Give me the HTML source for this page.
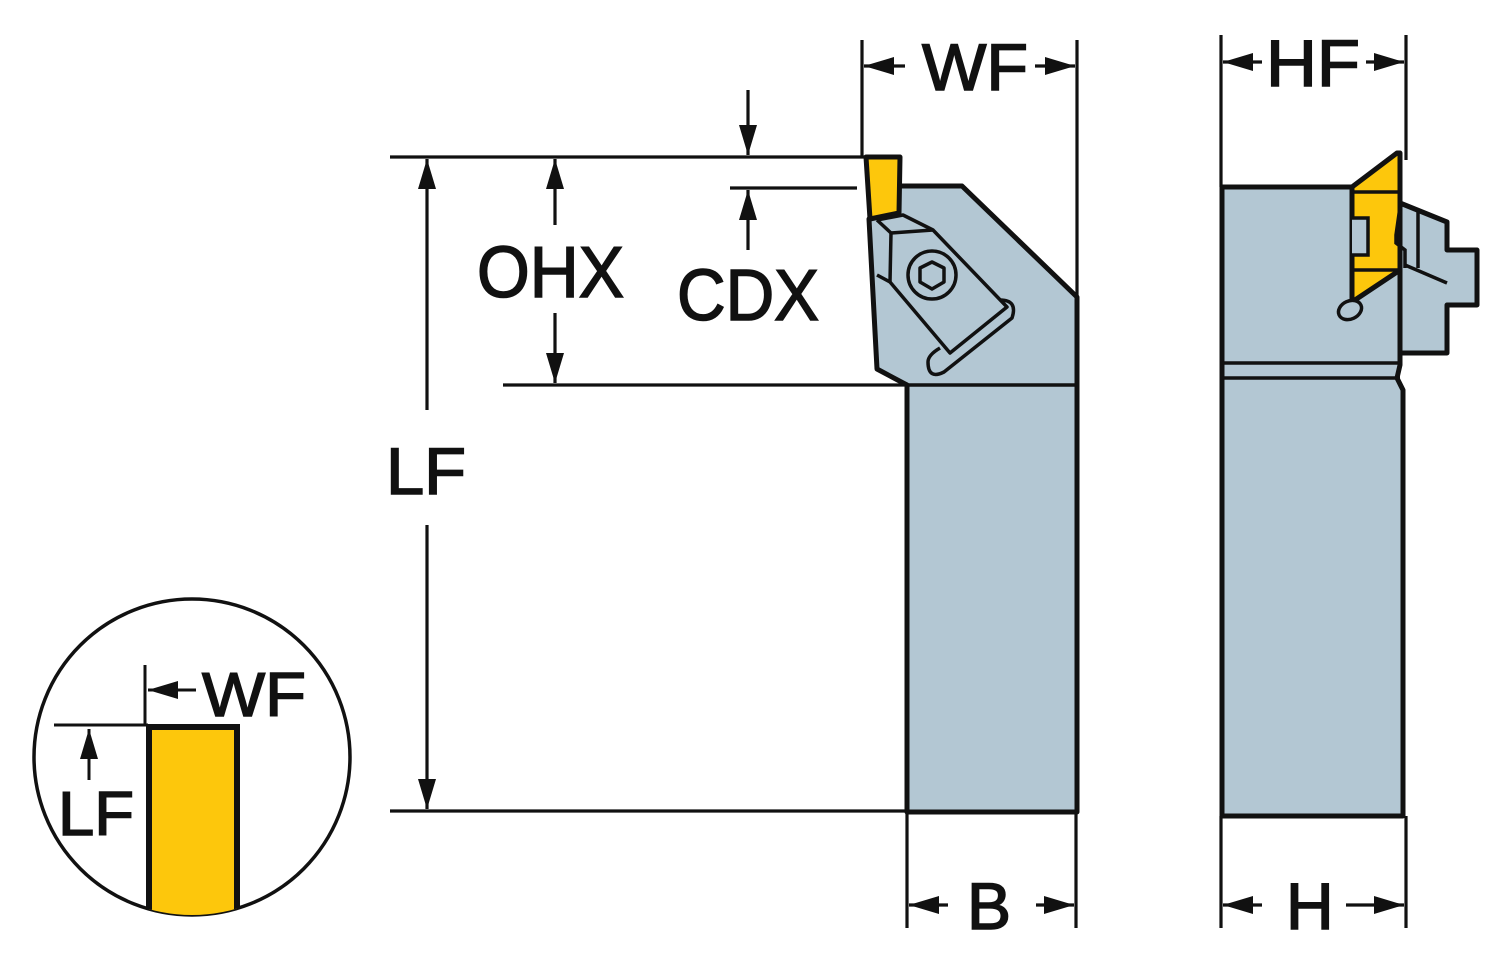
<!DOCTYPE html>
<html><head><meta charset="utf-8"><style>html,body{margin:0;padding:0;background:#fff}svg{display:block}</style></head>
<body>
<svg width="1500" height="961" viewBox="0 0 1500 961" xmlns="http://www.w3.org/2000/svg" font-family="Liberation Sans, Arial, sans-serif">
<defs>
<marker id="a" viewBox="0 0 10 10" refX="10" refY="5" markerWidth="30" markerHeight="30" markerUnits="userSpaceOnUse" orient="auto"><path d="M0,2 L10,5 L0,8 Z" fill="#111"/></marker>
</defs>
<g stroke="#111" stroke-width="3.2" fill="none">
<line x1="390" y1="157" x2="866" y2="157"/>
<line x1="730" y1="188" x2="857" y2="188"/>
<line x1="503" y1="385" x2="905" y2="385"/>
<line x1="390" y1="811" x2="905" y2="811"/>
<line x1="862" y1="40" x2="862" y2="156"/>
<line x1="1077" y1="40" x2="1077" y2="297"/>
<line x1="1221" y1="35" x2="1221" y2="187"/>
<line x1="1406" y1="35" x2="1406" y2="160"/>
<line x1="907" y1="812" x2="907" y2="928"/>
<line x1="1076" y1="812" x2="1076" y2="928"/>
<line x1="1221" y1="816" x2="1221" y2="928"/>
<line x1="1406" y1="816" x2="1406" y2="928"/>
<line x1="427" y1="410" x2="427" y2="159" marker-end="url(#a)"/>
<line x1="427" y1="525" x2="427" y2="809" marker-end="url(#a)"/>
<line x1="555" y1="225" x2="555" y2="159" marker-end="url(#a)"/>
<line x1="555" y1="313" x2="555" y2="383" marker-end="url(#a)"/>
<line x1="748" y1="90" x2="748" y2="155" marker-end="url(#a)"/>
<line x1="748" y1="250" x2="748" y2="190" marker-end="url(#a)"/>
<line x1="905" y1="66" x2="864" y2="66" marker-end="url(#a)"/>
<line x1="1035" y1="66" x2="1075" y2="66" marker-end="url(#a)"/>
<line x1="1262" y1="62" x2="1223" y2="62" marker-end="url(#a)"/>
<line x1="1366" y1="62" x2="1404" y2="62" marker-end="url(#a)"/>
<line x1="948" y1="905" x2="909" y2="905" marker-end="url(#a)"/>
<line x1="1036" y1="905" x2="1074" y2="905" marker-end="url(#a)"/>
<line x1="1262" y1="905" x2="1223" y2="905" marker-end="url(#a)"/>
<line x1="1346" y1="905" x2="1404" y2="905" marker-end="url(#a)"/>
</g>
<g fill="#111" stroke="#111" stroke-width="1.6" font-size="66">
<text x="922" y="90" textLength="106" lengthAdjust="spacingAndGlyphs">WF</text>
<text x="1266" y="86" textLength="94" lengthAdjust="spacingAndGlyphs">HF</text>
<text x="967" y="929">B</text>
<text x="1286" y="929">H</text>
<text x="386" y="494" textLength="80" lengthAdjust="spacingAndGlyphs">LF</text>
<text x="477" y="297" font-size="72" textLength="147" lengthAdjust="spacingAndGlyphs">OHX</text>
<text x="677" y="320" font-size="72" textLength="142" lengthAdjust="spacingAndGlyphs">CDX</text>
</g>
<g stroke="#111" stroke-width="5" stroke-linejoin="round">
<path d="M900,186 L962,186 L1077,297 L1077,812 L907,812 L907,385 L877,369 L869,219 Z" fill="#b3c7d3"/>
<path d="M866,157 L900,157 L899,213 L870,219 Z" fill="#fdc70c"/>
</g>
<g stroke="#111" stroke-width="3.5" fill="none" stroke-linejoin="round">
<line x1="907" y1="385" x2="1077" y2="385"/>
<path d="M877,220 L903,215 L933,230 L1007,307 L950,353 L890,282 L877,275"/>
<line x1="890" y1="282" x2="891" y2="233"/>
<line x1="877" y1="220" x2="891" y2="233"/>
<line x1="891" y1="233" x2="933" y2="230"/>
<circle cx="932" cy="275" r="24"/>
<path d="M932,262 L944,268 L944,282 L932,289 L920,282 L920,268 Z"/>
<path d="M1000,300 Q1018,300 1012,318 L944,372 Q928,380 928,362 Q928,355 940,348"/>
</g>
<g stroke="#111" stroke-width="5" stroke-linejoin="round">
<path d="M1222,187 L1352,187 L1352,300 L1400,268 L1400,365 L1397,378 L1403,390 L1403,816 L1222,816 Z" fill="#b3c7d3"/>
<path d="M1400,203 L1447,222 L1447,250 L1477,250 L1477,305 L1447,305 L1447,353 L1400,353 Z" fill="#b3c7d3"/>
<path d="M1352,187 L1397,153 L1400,153 L1400,270 L1352,302 Z" fill="#fdc70c"/>
</g>
<g stroke="#111" stroke-width="3.5" fill="none">
<line x1="1222" y1="363" x2="1400" y2="363"/>
<line x1="1222" y1="378" x2="1400" y2="378"/>
<line x1="1352" y1="192" x2="1400" y2="192"/>
<line x1="1352" y1="270" x2="1400" y2="270"/>
<path d="M1352,218 L1368,218 L1368,255 L1352,255" fill="#b3c7d3"/>
<path d="M1400,207 L1396,235 L1396,243 L1405,250 L1405,268"/>
<line x1="1418" y1="212" x2="1418" y2="268"/>
<line x1="1405" y1="265" x2="1447" y2="283"/>
<ellipse cx="1350" cy="310" rx="12" ry="9" transform="rotate(-25 1350 310)" fill="#b3c7d3"/>
</g>
<defs><clipPath id="c"><circle cx="192" cy="757" r="158"/></clipPath></defs>
<circle cx="192" cy="757" r="158" fill="#fff" stroke="#111" stroke-width="3.5"/>
<rect x="149" y="727" width="88" height="220" fill="#fdc70c" stroke="#111" stroke-width="6" clip-path="url(#c)"/>
<g stroke="#111" stroke-width="3" fill="none">
<line x1="54" y1="725" x2="148" y2="725"/>
<line x1="145" y1="665" x2="145" y2="725"/>
<line x1="196" y1="690" x2="148" y2="690" marker-end="url(#a)"/>
<line x1="89" y1="780" x2="89" y2="729" marker-end="url(#a)"/>
</g>
<g fill="#111" stroke="#111" stroke-width="1.5" font-size="62">
<text x="202" y="716" textLength="104" lengthAdjust="spacingAndGlyphs">WF</text>
<text x="58" y="835" textLength="76" lengthAdjust="spacingAndGlyphs">LF</text>
</g>
</svg>
</body></html>
